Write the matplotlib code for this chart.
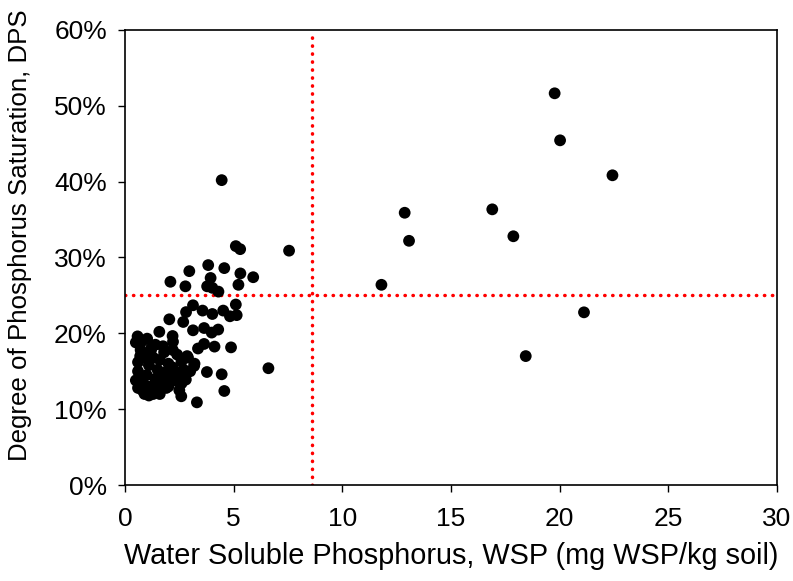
import matplotlib
matplotlib.use("Agg")
import matplotlib.pyplot as plt
from matplotlib.ticker import FuncFormatter

plt.rcParams['font.family'] = ['Liberation Sans', 'DejaVu Sans']

# Water soluble P (mg/kg) and degree of P saturation (%)
wsp_outliers = [4.45, 7.55, 6.6, 19.77, 20.02, 22.43, 12.87, 13.07, 16.9, 17.87, 11.8, 21.12, 18.44]
dps_outliers = [40.2, 30.9, 15.4, 51.65, 45.45, 40.84, 35.9, 32.2, 36.35, 32.8, 26.4, 22.77, 17.0]

wsp_mid = [5.1, 5.3, 3.83, 4.57, 2.96, 5.31, 5.9, 3.94, 2.09, 2.78, 3.78, 5.22, 4.3,
           5.1, 3.13, 2.81, 3.57, 4.02, 4.52, 4.83, 5.14, 2.04, 2.68, 3.13, 3.64,
           4.29, 3.99, 1.58, 2.19, 0.58, 1.02, 2.21, 1.75, 3.64, 3.36, 4.12, 4.88,
           0.72, 2.86, 3.77, 4.45, 3.18, 4.57, 2.59, 3.31, 4.02]
dps_mid = [31.5, 31.1, 29.0, 28.6, 28.2, 27.9, 27.4, 27.3, 26.8, 26.2, 26.2, 26.4, 25.5,
           23.8, 23.7, 22.8, 23.0, 22.55, 23.0, 22.25, 22.4, 21.85, 21.5, 20.4, 20.7,
           20.5, 20.1, 20.2, 19.65, 19.6, 19.3, 18.9, 18.3, 18.6, 18.0, 18.25, 18.15,
           17.8, 17.0, 14.9, 14.6, 15.7, 12.4, 11.7, 10.9, 26.0]

wsp_cluster = [0.5, 0.6, 0.6, 0.7, 0.5, 0.8, 0.9, 1.0, 1.0, 1.1, 0.9, 1.2, 1.3, 1.4,
               1.5, 1.5, 1.6, 1.7, 1.8, 1.9, 2.0, 2.1, 2.2, 2.3, 2.4, 2.5, 2.6, 2.7,
               2.8, 2.9, 3.0, 1.2, 1.4, 0.8, 1.1, 1.6, 0.7, 1.3, 2.0, 2.2, 1.8, 3.2, 2.5,
               0.9, 1.4, 1.9, 2.6, 0.6, 1.2]
dps_cluster = [13.8, 15.0, 16.2, 17.0, 18.8, 12.5, 13.2, 12.2, 14.5, 15.8, 16.8, 13.0, 12.0, 14.0,
               15.2, 12.5, 16.5, 13.5, 14.8, 12.8, 16.0, 14.2, 15.5, 13.8, 17.2, 14.8, 16.3, 15.2,
               13.9, 16.8, 15.0, 17.8, 18.5, 19.0, 11.8, 12.0, 14.0, 16.8, 13.0, 17.8, 17.5, 16.0, 12.5,
               12.0, 12.6, 14.4, 13.4, 12.8, 18.0]

wsp = wsp_outliers + wsp_mid + wsp_cluster
dps = dps_outliers + dps_mid + dps_cluster

wsp_threshold = 8.6
dps_threshold = 25

fig = plt.figure(figsize=(7.93, 5.81), dpi=100)
ax = fig.add_axes([0.1576, 0.1652, 0.8222, 0.7832])

ax.scatter(wsp, [v / 100 for v in dps], s=72, color='black', edgecolors='none', zorder=3)

ax.axvline(wsp_threshold, color='#ff0000', lw=2.5, linestyle=(0, (0.1, 2.2)),
           dash_capstyle='round', zorder=2)
ax.axhline(dps_threshold / 100, color='#ff0000', lw=2.5, linestyle=(0, (0.1, 2.2)),
           dash_capstyle='round', zorder=2)

ax.set_xlim(0, 30)
ax.set_ylim(0, 0.6)
ax.set_xticks([0, 5, 10, 15, 20, 25, 30])
ax.set_yticks([0, 0.1, 0.2, 0.3, 0.4, 0.5, 0.6])
ax.yaxis.set_major_formatter(FuncFormatter(lambda v, p: f"{v*100:.0f}%"))

ax.tick_params(direction='out', length=5, width=1, labelsize=19,
               top=False, right=False)
ax.tick_params(axis='y', pad=8)
ax.tick_params(axis='x', pad=11)
for s in ax.spines.values():
    s.set_linewidth(1.2)
    s.set_color('black')

ax.set_xlabel("Water Soluble Phosphorus, WSP (mg WSP/kg soil)", fontsize=20.8, labelpad=8)
ax.set_ylabel("Degree of Phosphorus Saturation, DPS", fontsize=18.6)
ax.yaxis.set_label_coords(-0.142, 0.55)

fig.savefig("out.png", dpi=100)
